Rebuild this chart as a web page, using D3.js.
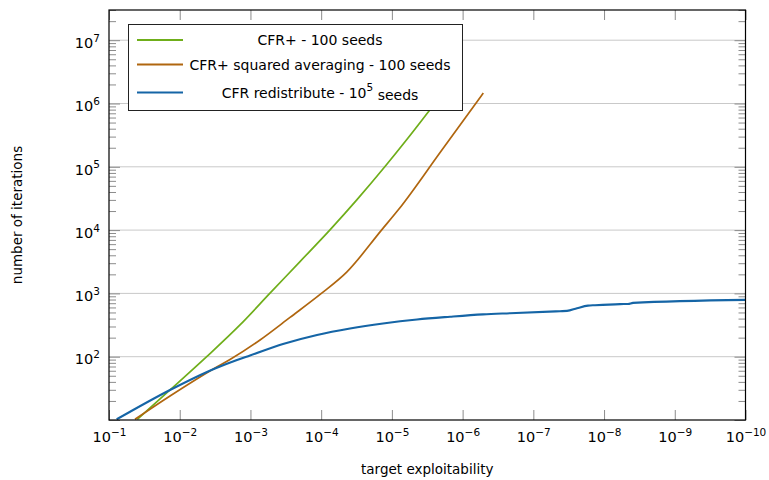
<!DOCTYPE html>
<html>
<head>
<meta charset="utf-8">
<script src="https://cdn.jsdelivr.net/npm/d3@7"></script>
<style>
  html, body { margin: 0; padding: 0; background: #fff; }
  svg { display: block; }
  svg text { font-family: "DejaVu Sans", sans-serif; }
</style>
</head>
<body>
<svg id="chart" width="769" height="480"></svg>
<script>
// Target exploitability (x) vs. iterations needed (y)
const cfrPlusEps   = [0.0398, 0.01372, 0.004154, 0.001405, 5.29e-4, 1.991e-4, 7.5e-5, 3.112e-5, 1.251e-5, 6.11e-6, 2.89e-6, 1.413e-6];
const cfrPlusIters = [10.26, 29.8, 100.2, 317.7, 1007, 3184, 10090, 30300, 101100, 272200, 796000, 2210000];

const cfrSqEps   = [0.0429, 0.01372, 0.00317, 0.001945, 7.32e-4, 2.759e-4, 9.83e-5, 4.355e-5, 1.393e-5, 8.11e-6, 2.033e-6, 5.097e-7];
const cfrSqIters = [10.26, 23.95, 66.4, 90.4, 184, 417.5, 1007, 2170, 10090, 20900, 174600, 1462000];

const redistEps   = [0.0778, 0.01372, 0.00317, 0.001549, 0.001014, 3.464e-4, 1.145e-4, 3.91e-5, 1.335e-5, 4.41e-6, 1.507e-6, 5.147e-7, 2.138e-7, 4.2e-8, 3.34e-8, 2.412e-8, 1.687e-8, 1.343e-8, 5.94e-9, 4.58e-9, 3.895e-9, 1e-10];
const redistIters = [10.26, 29.8, 65.2, 88.8, 104.7, 159.1, 220.8, 279.7, 335.6, 388, 428, 465.6, 486.4, 523.6, 528.9, 583.5, 641, 651, 677.6, 680, 708, 789];

const xTickExps = [-1, -2, -3, -4, -5, -6, -7, -8, -9, -10];
const yTickExps = [1, 2, 3, 4, 5, 6, 7];
const seriesNames = ["CFR+ - 100 seeds", "CFR+ squared averaging - 100 seeds", "CFR redistribute - 10"];
const seriesColors = ["#6fae1a", "#b0660f", "#1565a6"];

const svg = d3.select("#chart");
const plotL = 109, plotR = 745.5, plotT = 10, plotB = 420;

const x = d3.scaleLog().domain([1e-1, 1e-10]).range([plotL, plotR]);
const y = d3.scaleLog().domain([10, 3e7]).range([plotB, plotT]);

// horizontal grid at each decade
svg.append("g")
  .selectAll("line")
  .data(yTickExps.map(e => Math.pow(10, e)).filter(v => v > 10))
  .join("line")
  .attr("x1", plotL).attr("x2", plotR)
  .attr("y1", d => y(d)).attr("y2", d => y(d))
  .attr("stroke", "#c9c9c9").attr("stroke-width", 1);

// minor y ticks 2..9 x 10^k
const yMinor = [];
for (let k = 1; k <= 7; k++) for (let m = 2; m <= 9; m++) { const v = m * Math.pow(10, k); if (v <= 3e7) yMinor.push(v); }

function supLabel(sel, expFn) {
  sel.each(function(d) {
    const t = d3.select(this);
    t.text(null);
    t.append("tspan").text("10");
    t.append("tspan").attr("dy", "-0.6em").attr("font-size", "10.5px").text(expFn(d));
  });
}

const tickColor = "#8c8c8c";
const fmtExp = e => (e < 0 ? "\u2212" + (-e) : String(e));

function cleanAxis(g) {
  g.attr("font-family", null).attr("font-size", null);
  g.select(".domain").remove();
  g.selectAll(".tick line").attr("stroke", tickColor);
}

// bottom axis
const gx = svg.append("g").attr("transform", `translate(0,${plotB})`)
  .call(d3.axisBottom(x).tickValues(xTickExps.map(e => Math.pow(10, e))).tickSizeInner(-10).tickSizeOuter(0));
cleanAxis(gx);
gx.selectAll(".tick text").attr("font-size", "14.5px").attr("fill", "#000").attr("dy", 0).attr("y", 22);
supLabel(gx.selectAll(".tick text"), d => fmtExp(Math.round(Math.log10(d))));

// top axis ticks (mirrored)
const gxt = svg.append("g").attr("transform", `translate(0,${plotT})`)
  .call(d3.axisTop(x).tickValues(xTickExps.map(e => Math.pow(10, e))).tickSizeInner(-10).tickSizeOuter(0).tickFormat(""));
cleanAxis(gxt);

// left axis: majors with labels, minors unlabeled
const gy = svg.append("g").attr("transform", `translate(${plotL},0)`)
  .call(d3.axisLeft(y).tickValues(yTickExps.map(e => Math.pow(10, e))).tickSizeInner(-11).tickSizeOuter(0));
cleanAxis(gy);
gy.selectAll(".tick text").attr("font-size", "14.5px").attr("fill", "#000").attr("dy", "0.5em").attr("x", -9);
supLabel(gy.selectAll(".tick text"), d => fmtExp(Math.round(Math.log10(d))));
gy.selectAll(".tick").filter(d => d <= 10).select("text").remove();

const gyMinor = svg.append("g").attr("transform", `translate(${plotL},0)`)
  .call(d3.axisLeft(y).tickValues(yMinor).tickSizeInner(-7).tickSizeOuter(0).tickFormat(""));
cleanAxis(gyMinor);

// right axis ticks (mirrored)
const gyr = svg.append("g").attr("transform", `translate(${plotR},0)`)
  .call(d3.axisRight(y).tickValues(yTickExps.map(e => Math.pow(10, e))).tickSizeInner(-11).tickSizeOuter(0).tickFormat(""));
cleanAxis(gyr);
const gyrMinor = svg.append("g").attr("transform", `translate(${plotR},0)`)
  .call(d3.axisRight(y).tickValues(yMinor).tickSizeInner(-7).tickSizeOuter(0).tickFormat(""));
cleanAxis(gyrMinor);

// series
svg.append("defs").append("clipPath").attr("id", "plot-clip")
  .append("rect").attr("x", plotL).attr("y", plotT).attr("width", plotR - plotL).attr("height", plotB - plotT);

const line = d3.line().x(d => x(d[0])).y(d => y(d[1])).curve(d3.curveMonotoneX);
const series = [
  d3.zip(cfrPlusEps, cfrPlusIters),
  d3.zip(cfrSqEps, cfrSqIters),
  d3.zip(redistEps, redistIters)
];
const widths = [1.7, 1.7, 2.1];
svg.append("g").attr("clip-path", "url(#plot-clip)")
  .selectAll("path")
  .data(series)
  .join("path")
  .attr("d", line)
  .attr("fill", "none")
  .attr("stroke", (d, i) => seriesColors[i])
  .attr("stroke-width", (d, i) => widths[i])
  .attr("stroke-linejoin", "round");

// frame
svg.append("rect")
  .attr("x", plotL).attr("y", plotT).attr("width", plotR - plotL).attr("height", plotB - plotT)
  .attr("fill", "none").attr("stroke", "#000").attr("stroke-width", 1.2);

// legend
const lg = svg.append("g");
lg.append("rect").attr("x", 128.5).attr("y", 24.5).attr("width", 334).attr("height", 86)
  .attr("fill", "#fff").attr("stroke", "#222").attr("stroke-width", 1);
const rowY = [40, 64.5, 92.5];
seriesNames.forEach((name, i) => {
  lg.append("line").attr("x1", 137).attr("x2", 183).attr("y1", rowY[i]).attr("y2", rowY[i])
    .attr("stroke", seriesColors[i]).attr("stroke-width", 2);
  const t = lg.append("text").attr("x", 320).attr("y", rowY[i] + 5)
    .attr("text-anchor", "middle").attr("font-size", "14px").attr("fill", "#000");
  t.append("tspan").text(name);
  if (i === 2) {
    t.append("tspan").attr("dy", "-0.6em").attr("font-size", "10.5px").text("5");
    t.append("tspan").attr("dy", "0.6em").text(" seeds");
  }
});

// axis titles
svg.append("text").attr("x", (plotL + plotR) / 2).attr("y", 474)
  .attr("text-anchor", "middle").attr("font-size", "13.5px").attr("fill", "#000")
  .text("target exploitability");
svg.append("text").attr("transform", `translate(22,${(plotT + plotB) / 2}) rotate(-90)`)
  .attr("text-anchor", "middle").attr("font-size", "13.5px").attr("fill", "#000")
  .text("number of iterations");
</script>
</body>
</html>
